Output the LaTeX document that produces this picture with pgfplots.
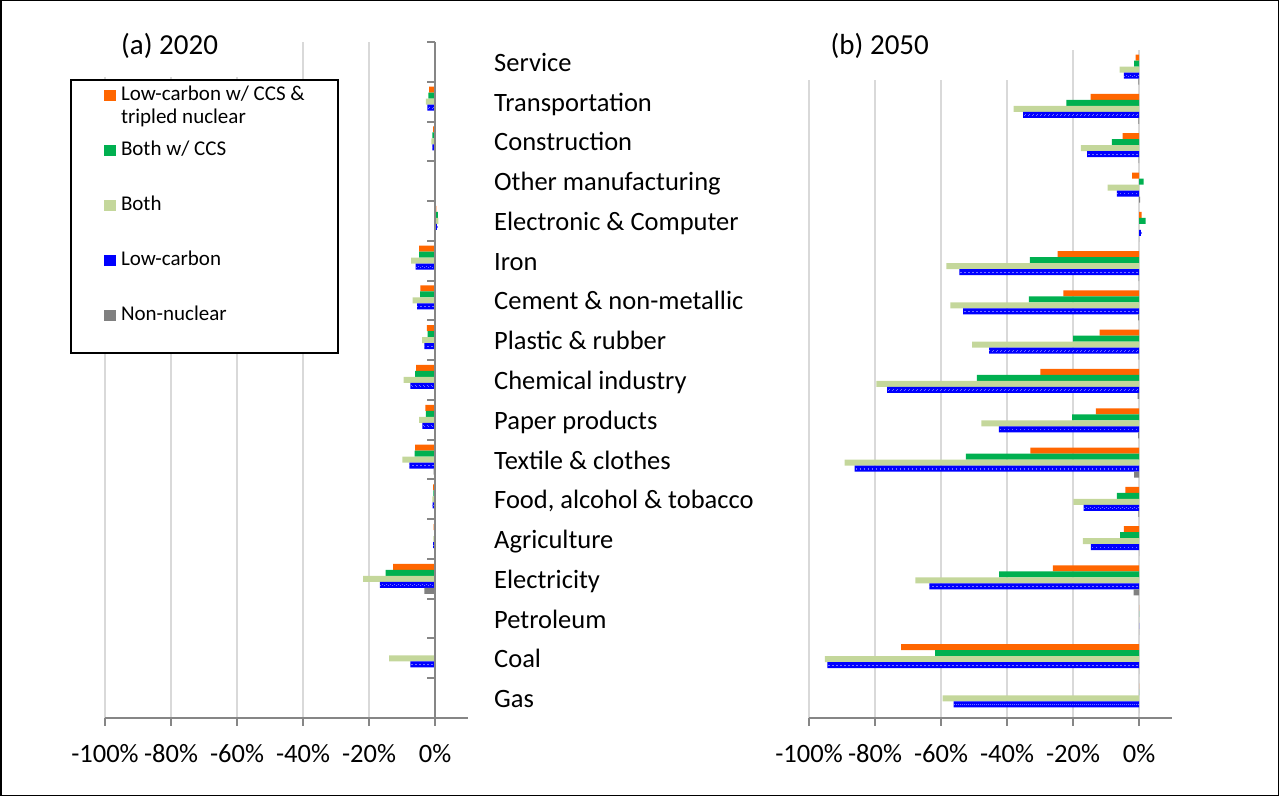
\documentclass[border=0pt]{standalone}
\usepackage{pgfplots}
\pgfplotsset{compat=1.18}
\usepackage{pgfplotstable}
\usepackage{fontspec}
\setmainfont{Carlito}
\definecolor{cOrange}{HTML}{FF6600}
\definecolor{cGreen}{HTML}{00B050}
\definecolor{cLight}{HTML}{C4D79B}
\definecolor{cBlue}{HTML}{0000FF}
\definecolor{cGray}{HTML}{808080}
\definecolor{gridgray}{HTML}{D9D9D9}
\definecolor{axisgray}{HTML}{868686}

% y: 0=Gas ... 16=Service ; o=Low-carbon w/ CCS & tripled nuclear, g=Both w/ CCS, l=Both, b=Low-carbon, n=Non-nuclear
\pgfplotstableread{
y o g l b n
0 0 0 0 0 0
1 0 0 -13.9 -7.5 0
2 0 0 0 0 0
3 -12.7 -15.0 -21.8 -16.7 -3.2
4 -0.4 -0.2 -0.5 -0.6 0
5 -0.6 -0.5 -0.8 -0.7 0
6 -6.0 -6.2 -9.9 -7.8 -0.4
7 -2.9 -2.8 -4.8 -3.8 0
8 -5.7 -6.0 -9.5 -7.5 0
9 -2.5 -2.2 -3.9 -3.2 0
10 -4.4 -4.5 -6.8 -5.4 0
11 -4.8 -4.8 -7.2 -5.9 0
12 0.4 0.9 1.0 0.6 0
13 0 0.3 0.2 0 0
14 -0.6 -0.8 -1.1 -0.8 0
15 -1.8 -2.0 -2.8 -2.3 0
16 0 0 0 0 0
}\tabA

\pgfplotstableread{
y o g l b n
0 0 0 -59.5 -56.2 0
1 -72.1 -61.8 -95.2 -94.4 0
2 0 0 0 0 0
3 -26.1 -42.4 -67.8 -63.5 -1.6
4 -4.6 -5.7 -17.0 -14.6 0
5 -4.1 -6.7 -19.9 -16.8 -0.2
6 -32.9 -52.5 -89.2 -86.2 -1.5
7 -13.1 -20.3 -47.8 -42.5 -0.3
8 -29.9 -49.1 -79.6 -76.3 -0.4
9 -11.9 -20.0 -50.6 -45.4 -0.1
10 -22.9 -33.4 -57.2 -53.3 -0.3
11 -24.7 -33.1 -58.4 -54.4 -0.1
12 0.8 2.0 0 0.6 0
13 -2.1 1.4 -9.5 -6.7 0.3
14 -5.0 -8.2 -17.6 -15.7 -0.1
15 -14.7 -22.0 -38.0 -35.1 -0.2
16 -1.0 -1.5 -5.9 -4.6 -0.2
}\tabB

\pgfplotsset{
  panel/.style={
    anchor=south west,
    scale only axis, width=363bp,
    xmin=-100, xmax=10, ymin=-0.5, ymax=16.5,
    xbar, bar width=6bp,
    every axis plot/.append style={draw=none,
      legend image code/.code={\fill[##1] (0bp,-0.5bp) rectangle (11.7bp,11.2bp);}},
    axis x line*=bottom,
    x axis line style={axisgray, line width=2.2bp},
    xtick={-100,-80,-60,-40,-20,0},
    xticklabels={-100\%,-80\%,-60\%,-40\%,-20\%,0\%},
    tick align=outside, major tick length=8bp,
    xtick style={axisgray, line width=2bp},
    xmajorgrids, grid style={gridgray, line width=2bp},
    tick label style={font=\fontsize{26.5bp}{30bp}\selectfont},
    xticklabel style={inner sep=0pt, anchor=north, yshift=-18bp},
    clip=false,
  },
}

\begin{document}
\begin{tikzpicture}
\useasboundingbox (0,0) rectangle (1279bp,796bp);

% ---------- (a) 2020 ----------
\begin{axis}[panel,
  at={(105bp,78bp)}, height=676bp,
  axis y line*=right,
  y axis line style={draw=none},
  ytick={0,...,16},
  yticklabels={Gas,Coal,Petroleum,Electricity,Agriculture,{Food, alcohol \& tobacco},{Textile \& clothes},Paper products,Chemical industry,{Plastic \& rubber},{Cement \& non-metallic},Iron,{Electronic \& Computer},Other manufacturing,Construction,Transportation,Service},
  ytick style={draw=none},
  yticklabel style={inner sep=0pt, anchor=base west, xshift=18bp, yshift=-9.5bp},
  legend style={at={(-0.0964,0.9453)}, anchor=north west, draw=black, line width=2bp,
    inner xsep=33bp, inner ysep=6bp, column sep=5.3bp, row sep=35bp,
    font=\fontsize{21bp}{23bp}\selectfont,
    nodes={inner sep=0pt, text height=15bp, text depth=5bp},
    cells={anchor=base west}},
]
\addplot[fill=cOrange, bar shift=12bp] table[x=o,y=y]{\tabA};
\addlegendentry{\begin{tabular}[t]{@{}l@{}}Low-carbon w/ CCS \&\\tripled nuclear\end{tabular}}
\addplot[fill=cGreen, bar shift=6bp] table[x=g,y=y]{\tabA};
\addlegendentry{Both w/ CCS}
\addplot[fill=cLight, bar shift=0bp] table[x=l,y=y]{\tabA};
\addlegendentry{Both}
\addplot[fill=cBlue, bar shift=-6bp] table[x=b,y=y]{\tabA};
\addlegendentry{Low-carbon}
\addplot[fill=cGray, bar shift=-12bp] table[x=n,y=y]{\tabA};
\addlegendentry[text depth=26bp]{Non-nuclear}
\addplot[forget plot, fill=none, draw=cBlue!55!white, line width=0.6bp, bar width=0.5bp, bar shift=-6bp,
  dash pattern=on 0.7bp off 3.3bp, dash phase=2bp] table[x=b,y=y]{\tabA};
% vertical axis at 0 with category tick marks
\draw[axisgray, line width=2.2bp] (axis cs:0,-0.5) -- (axis cs:0,16.5);
\pgfplotsinvokeforeach{-0.5,0.5,...,16.5}{
  \draw[axisgray, line width=2bp] (axis cs:0,#1) -- ++(-8bp,0pt);
}
\end{axis}

% ---------- (b) 2050 ----------
\begin{axis}[panel,
  at={(809bp,78bp)}, height=668bp,
  axis y line=none,
]
\addplot[fill=cOrange, bar shift=12bp] table[x=o,y=y]{\tabB};
\addplot[fill=cGreen, bar shift=6bp] table[x=g,y=y]{\tabB};
\addplot[fill=cLight, bar shift=0bp] table[x=l,y=y]{\tabB};
\addplot[fill=cBlue, bar shift=-6bp] table[x=b,y=y]{\tabB};
\addplot[fill=cGray, bar shift=-12bp] table[x=n,y=y]{\tabB};
\addplot[forget plot, fill=none, draw=cBlue!55!white, line width=0.6bp, bar width=0.5bp, bar shift=-6bp,
  dash pattern=on 0.7bp off 3.3bp, dash phase=2bp] table[x=b,y=y]{\tabB};
\end{axis}

% title boxes
\fill[white] (98bp,719bp) rectangle (265bp,755bp);
\fill[white] (800bp,716bp) rectangle (1062bp,747bp);
\node[anchor=base west, inner sep=0pt, font=\fontsize{29bp}{34bp}\selectfont] at (121bp,741.5bp) {(a) 2020};
\node[anchor=base west, inner sep=0pt, font=\fontsize{29bp}{34bp}\selectfont] at (830.5bp,741bp) {(b) 2050};

% outer frame
\draw[black, line width=1.5bp] (0.75bp,0.75bp) rectangle (1278.25bp,795.25bp);
\end{tikzpicture}
\end{document}
